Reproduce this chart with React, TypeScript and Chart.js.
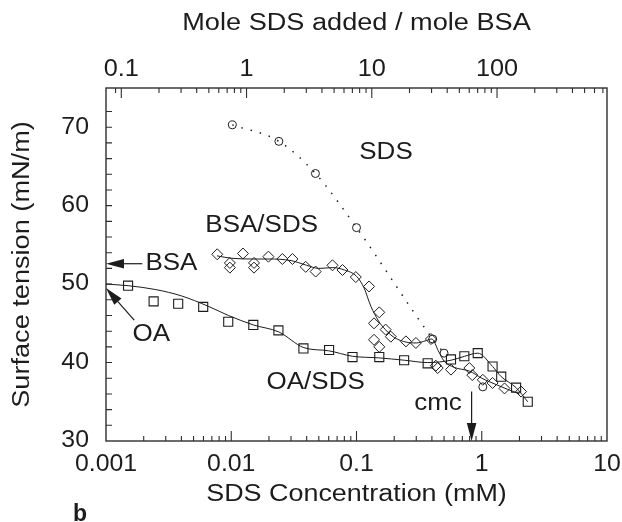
import React, { useEffect, useRef } from 'react';
import { Chart, registerables } from 'chart.js';

Chart.register(...registerables);

const FONT = '"Liberation Sans", Arial, Helvetica, sans-serif';
const INK = '#1e1b1c';
const AXIS = '#2e2e2e';

// Tick labels
const xTickLabels = ['0.001', '0.01', '0.1', '1', '10'];
const topTickLabels = ['0.1', '1', '10', '100'];
const yTickLabels = ['30', '40', '50', '60', '70'];
const MOLE_RATIO_FACTOR = 75.5; // mole SDS / mole BSA per mM SDS

// Axis titles
const xTitle = 'SDS Concentration (mM)';
const topTitle = 'Mole SDS added / mole BSA';
const yTitle = 'Surface tension (mN/m)';
const panelLetter = 'b';

// SDS alone (circles, dotted guide)
const sdsConc = [0.0102, 0.024, 0.047, 0.1, 0.406, 0.5, 1.02];
const sdsTension = [70.3, 68.2, 64.1, 57.2, 43.0, 41.2, 36.9];

// BSA/SDS (diamonds)
const bsaConc = [0.00773, 0.00975, 0.00975, 0.0124, 0.0152, 0.0152, 0.0198, 0.0256, 0.0308, 0.0393, 0.0472, 0.0643, 0.0773, 0.0987, 0.126, 0.152, 0.138, 0.171, 0.188, 0.248, 0.298, 0.393, 0.138, 0.152, 0.43, 0.445, 0.568, 0.796, 0.84, 1.02, 1.22, 1.52, 2.06];
const bsaTension = [53.8, 52.7, 52.1, 53.9, 52.7, 52.1, 53.5, 53.2, 53.2, 52.2, 51.6, 52.4, 51.8, 50.9, 49.7, 46.4, 45.0, 44.2, 43.3, 42.7, 42.5, 43.0, 42.9, 42.0, 39.6, 39.3, 39.1, 39.3, 38.4, 37.8, 37.4, 36.7, 36.3];
// BSA/SDS smooth curve
const bsaFitConc = [0.0077, 0.01, 0.015, 0.02, 0.03, 0.04, 0.05, 0.065, 0.08, 0.1, 0.115, 0.13, 0.15, 0.17, 0.2, 0.25, 0.3, 0.36, 0.4, 0.45, 0.5, 0.6, 0.8, 1.0, 1.3, 1.6, 2.0];
const bsaFitTension = [53.6, 53.3, 53.2, 53.2, 53.0, 52.4, 52.0, 52.1, 51.8, 51.0, 49.5, 47.2, 45.3, 44.2, 43.2, 42.6, 42.5, 42.8, 43.0, 41.5, 40.2, 39.4, 38.9, 38.0, 37.2, 36.6, 36.0];

// OA/SDS (squares)
const oaConc = [0.0015, 0.0024, 0.00377, 0.00597, 0.00946, 0.015, 0.0238, 0.0377, 0.0604, 0.0929, 0.152, 0.24, 0.37, 0.568, 0.726, 0.929, 1.22, 1.43, 1.88, 2.33];
const oaTension = [49.8, 47.8, 47.5, 47.1, 45.2, 44.8, 44.1, 41.8, 41.6, 40.7, 40.7, 40.3, 39.9, 40.4, 40.8, 41.2, 39.5, 38.2, 36.8, 35.0];
// OA/SDS smooth curve
const oaFitConc = [0.001, 0.0015, 0.0025, 0.004, 0.0065, 0.0095, 0.015, 0.024, 0.038, 0.06, 0.093, 0.15, 0.24, 0.37, 0.57, 0.73, 0.93, 1.22, 1.43, 1.88, 2.33];
const oaFitTension = [50.0, 49.8, 49.3, 48.5, 47.2, 46.0, 44.8, 43.9, 41.9, 41.5, 40.8, 40.6, 40.3, 40.0, 40.3, 40.8, 41.2, 39.5, 38.2, 36.8, 35.0];

// Annotations (data coordinates)
const noteTexts = ['SDS', 'BSA/SDS', 'BSA', 'OA', 'OA/SDS', 'cmc'];
const noteConc = [0.172, 0.0175, 0.00333, 0.0023, 0.0472, 0.447];
const noteTension = [66.8, 57.4, 52.6, 43.5, 37.5, 34.7];
const arrowFromConc = [0.00195, 0.00168, 0.83];
const arrowFromTension = [52.6, 45.4, 36.3];
const arrowToConc = [0.001, 0.001, 0.83];
const arrowToTension = [52.6, 49.5, 30];

const pts = (xs: number[], ys: number[]) => xs.map((x, i) => ({ x, y: ys[i] }));

const isPow10 = (v: number) => {
  const l = Math.log10(v);
  return Math.abs(l - Math.round(l)) < 1e-6;
};
const isNice = (v: number) => {
  const e = Math.floor(Math.log10(v) + 1e-9);
  const s = v / Math.pow(10, e);
  return Math.abs(s - Math.round(s)) < 1e-6;
};

const FS = 23;
function drawText(
  ctx: CanvasRenderingContext2D,
  text: string,
  x: number,
  y: number,
  stretch: number,
  align: CanvasTextAlign = 'center',
  rotate = 0,
  bold = false,
) {
  ctx.save();
  ctx.translate(x, y);
  if (rotate) ctx.rotate(rotate);
  ctx.scale(stretch, 1);
  ctx.font = `${bold ? 'bold ' : ''}${FS}px ${FONT}`;
  ctx.textAlign = align;
  ctx.textBaseline = 'middle';
  ctx.fillStyle = INK;
  ctx.fillText(text, 0, 0);
  ctx.restore();
}

const decorPlugin = {
  id: 'decor',
  afterDraw(chart: any) {
    const { ctx, chartArea: a, scales } = chart;
    const x = scales.x;
    const x2 = scales.x2;
    const y = scales.y;
    ctx.save();
    ctx.strokeStyle = AXIS;
    ctx.lineWidth = 1.4;
    ctx.strokeRect(a.left, a.top, a.right - a.left, a.bottom - a.top);

    ctx.lineWidth = 1.1;
    ctx.beginPath();
    for (const t of x.ticks) {
      if (!isNice(t.value)) continue;
      const px = x.getPixelForValue(t.value);
      if (px < a.left + 1 || px > a.right - 1) continue;
      const len = isPow10(t.value) ? 10 : 5;
      ctx.moveTo(px, a.bottom);
      ctx.lineTo(px, a.bottom - len);
    }
    for (const t of x2.ticks) {
      if (!isNice(t.value)) continue;
      const px = x2.getPixelForValue(t.value);
      if (px < a.left + 1 || px > a.right - 1) continue;
      const len = isPow10(t.value) ? 10 : 5;
      ctx.moveTo(px, a.top);
      ctx.lineTo(px, a.top + len);
    }
    for (const t of y.ticks) {
      if (t.value % 2 !== 0) continue;
      const py = y.getPixelForValue(t.value);
      if (py > a.bottom - 1 || py < a.top + 1) continue;
      ctx.moveTo(a.left, py);
      ctx.lineTo(a.left + 6, py);
    }
    ctx.stroke();

    // tick labels
    xTickLabels.forEach((t) => drawText(ctx, t, x.getPixelForValue(parseFloat(t)), a.bottom + 23.5, 1.08));
    topTickLabels.forEach((t) => drawText(ctx, t, x2.getPixelForValue(parseFloat(t)), a.top - 18, 1.1));
    yTickLabels.forEach((t) => drawText(ctx, t, a.left - 17, y.getPixelForValue(parseFloat(t)), 1.08, 'right'));

    // axis titles
    const cx = (a.left + a.right) / 2;
    const cy = (a.top + a.bottom) / 2;
    drawText(ctx, xTitle, cx, a.bottom + 54, 1.17);
    drawText(ctx, topTitle, cx, 24, 1.18);
    drawText(ctx, yTitle, 23, cy, 1.18, 'center', -Math.PI / 2);
    drawText(ctx, panelLetter, 73, a.bottom + 74, 1.0, 'left', 0, true);

    // annotation texts
    noteTexts.forEach((t, i) => {
      drawText(ctx, t, x.getPixelForValue(noteConc[i]), y.getPixelForValue(noteTension[i]), 1.13);
    });

    // arrows
    ctx.strokeStyle = INK;
    ctx.fillStyle = INK;
    ctx.lineWidth = 1.2;
    arrowFromConc.forEach((_, i) => {
      const x1 = x.getPixelForValue(arrowFromConc[i]);
      const y1 = y.getPixelForValue(arrowFromTension[i]);
      const xt = x.getPixelForValue(arrowToConc[i]);
      const yt = y.getPixelForValue(arrowToTension[i]);
      const ang = Math.atan2(yt - y1, xt - x1);
      const L = 18;
      const W = 4.8;
      const bx = xt - L * Math.cos(ang);
      const by = yt - L * Math.sin(ang);
      ctx.beginPath();
      ctx.moveTo(x1, y1);
      ctx.lineTo(bx, by);
      ctx.stroke();
      ctx.beginPath();
      ctx.moveTo(xt, yt);
      ctx.lineTo(bx + W * Math.sin(ang), by - W * Math.cos(ang));
      ctx.lineTo(bx - W * Math.sin(ang), by + W * Math.cos(ang));
      ctx.closePath();
      ctx.fill();
    });
    ctx.restore();
  },
};

export default function App() {
  const ref = useRef<HTMLCanvasElement | null>(null);
  useEffect(() => {
    if (!ref.current) return;
    const hiddenTicks = { display: false, autoSkip: false };
    const chart = new Chart(ref.current, {
      type: 'scatter',
      data: {
        datasets: [
          {
            label: 'SDS guide',
            data: pts(sdsConc.slice(0, 6), sdsTension.slice(0, 6)),
            showLine: true,
            borderColor: INK,
            borderWidth: 1.5,
            borderDash: [1.5, 8],
            pointRadius: 0,
            cubicInterpolationMode: 'monotone',
          },
          {
            label: 'SDS',
            data: pts(sdsConc, sdsTension),
            showLine: false,
            pointStyle: 'circle',
            pointRadius: 4,
            borderColor: INK,
            borderWidth: 1,
            backgroundColor: 'rgba(0,0,0,0)',
          },
          {
            label: 'BSA/SDS fit',
            data: pts(bsaFitConc, bsaFitTension),
            showLine: true,
            borderColor: INK,
            borderWidth: 1,
            pointRadius: 0,
            cubicInterpolationMode: 'monotone',
          },
          {
            label: 'BSA/SDS',
            data: pts(bsaConc, bsaTension),
            showLine: false,
            pointStyle: 'rectRot',
            pointRadius: 5.5,
            borderColor: INK,
            borderWidth: 1,
            backgroundColor: 'rgba(0,0,0,0)',
          },
          {
            label: 'OA/SDS fit',
            data: pts(oaFitConc, oaFitTension),
            showLine: true,
            borderColor: INK,
            borderWidth: 1,
            pointRadius: 0,
            cubicInterpolationMode: 'monotone',
          },
          {
            label: 'OA/SDS',
            data: pts(oaConc, oaTension),
            showLine: false,
            pointStyle: 'rect',
            pointRadius: 6.4,
            borderColor: INK,
            borderWidth: 1.1,
            backgroundColor: 'rgba(0,0,0,0)',
          },
        ],
      },
      options: {
        animation: false,
        responsive: false,
        devicePixelRatio: 1,
        layout: { padding: { left: 0, right: 15, top: 0, bottom: 0 } },
        plugins: { legend: { display: false }, tooltip: { enabled: false } },
        scales: {
          x: {
            type: 'logarithmic',
            position: 'bottom',
            min: 0.001,
            max: 10,
            grid: { display: false, drawTicks: false },
            border: { display: false },
            ticks: hiddenTicks,
            afterFit: (s: any) => {
              s.height = 81;
            },
          },
          x2: {
            type: 'logarithmic',
            position: 'top',
            min: 0.001 * MOLE_RATIO_FACTOR,
            max: 10 * MOLE_RATIO_FACTOR,
            grid: { display: false, drawTicks: false },
            border: { display: false },
            ticks: hiddenTicks,
            afterFit: (s: any) => {
              s.height = 88;
            },
          },
          y: {
            type: 'linear',
            position: 'left',
            min: 30,
            max: 75,
            grid: { display: false, drawTicks: false },
            border: { display: false },
            ticks: { ...hiddenTicks, stepSize: 2 },
            afterFit: (s: any) => {
              s.width = 106;
            },
          },
        },
      },
      plugins: [decorPlugin],
    } as any);
    return () => chart.destroy();
  }, []);

  return (
    <div style={{ position: 'absolute', left: 0, top: 0, width: 622, height: 522, background: '#fff' }}>
      <canvas ref={ref} width={622} height={522} style={{ width: 622, height: 522, display: 'block' }} />
    </div>
  );
}
